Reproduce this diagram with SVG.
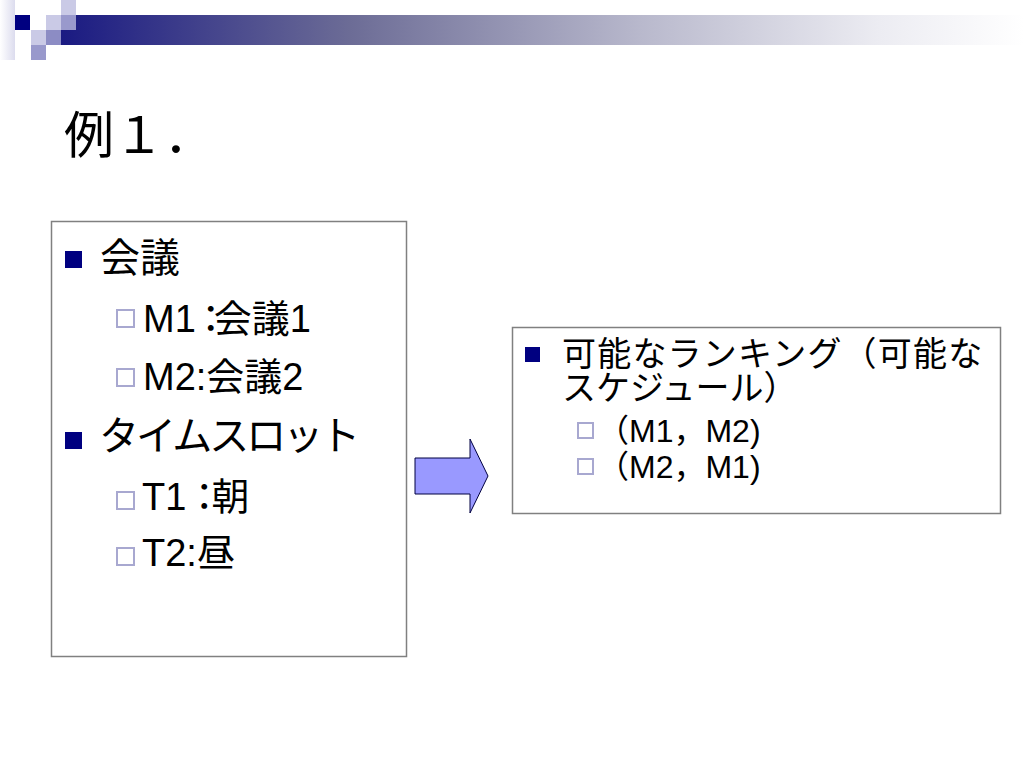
<svg xmlns="http://www.w3.org/2000/svg" width="1024" height="768" viewBox="0 0 1024 768">
<defs>
<linearGradient id="bar" x1="0" y1="0" x2="1" y2="0">
<stop offset="0" stop-color="#1a1a82"/>
<stop offset="0.3" stop-color="#6c6c96"/>
<stop offset="0.6" stop-color="#b8b8cc"/>
<stop offset="0.85" stop-color="#ececf2"/>
<stop offset="1" stop-color="#ffffff"/>
</linearGradient>
<linearGradient id="side" x1="0" y1="0" x2="1" y2="0">
<stop offset="0" stop-color="#ffffff"/>
<stop offset="1" stop-color="#dcdcee"/>
</linearGradient>
</defs>
<style>
.t{font-family:"Liberation Sans","Noto Sans CJK JP",sans-serif;fill:#000}
.j{font-family:"Noto Sans CJK JP","Liberation Sans",sans-serif;fill:#000}
.box{fill:#fff;stroke:#808080;stroke-width:1.5}
.b1{fill:#000080}
.b2{fill:none;stroke:#a8a8d0;stroke-width:2}
</style>
<rect width="1024" height="768" fill="#fff"/>
<g id="header">
<rect x="0" y="0" width="15" height="60" fill="url(#side)"/>
<rect x="61" y="15" width="963" height="30" fill="url(#bar)"/>
<rect x="15" y="15" width="15" height="15" fill="#000080"/>
<rect x="46" y="15" width="15" height="15" fill="#cacae6"/>
<rect x="61" y="0" width="15" height="15" fill="#cacae6"/>
<rect x="61" y="15" width="15" height="15" fill="#9999cc"/>
<rect x="31" y="30" width="15" height="15" fill="#cacae6"/>
<rect x="46" y="30" width="15" height="15" fill="#8c8cc4"/>
<rect x="31" y="45" width="15" height="15" fill="#9999cc"/>
</g>
<text id="title" class="j" x="64" y="153" font-size="50">例１．</text>
<g id="left">
<rect class="box" x="51.5" y="221.5" width="355" height="435"/>
<rect class="b1" x="65" y="251" width="17" height="17"/>
<text class="j" x="100" y="272" font-size="40">会議</text>
<rect class="b2" x="117" y="310" width="17" height="17"/>
<text class="t" x="143" y="332" font-size="38">M1<tspan dx="-4">：</tspan><tspan dx="-16">会議1</tspan></text>
<rect class="b2" x="117" y="369" width="17" height="17"/>
<text class="t" x="143" y="390" font-size="38">M2:会議2</text>
<rect class="b1" x="65" y="432" width="17" height="17"/>
<text class="j" x="99" y="450" font-size="40" letter-spacing="-3">タイムスロット</text>
<rect class="b2" x="117" y="492" width="17" height="17"/>
<text class="t" x="142" y="510" font-size="38">T1<tspan dx="-1">：</tspan><tspan dx="-12">朝</tspan></text>
<rect class="b2" x="117" y="548" width="17" height="17"/>
<text class="t" x="142" y="566" font-size="38">T2:昼</text>
</g>
<g id="connectors">
<path d="M415,458 H470 V439 L488,476 L470,513 V494 H415 Z" fill="#9999ff" stroke="#000040" stroke-width="1"/>
</g>
<g id="right">
<rect class="box" x="512.5" y="327.5" width="488" height="186"/>
<rect class="b1" x="525" y="347" width="15" height="15"/>
<text class="j" x="562" y="366" font-size="34" letter-spacing="1.2">可能なランキング（可能な</text>
<text class="j" x="562" y="400" font-size="34">スケジュール）</text>
<rect class="b2" x="578" y="423" width="15" height="15"/>
<text class="t" x="597" y="442" font-size="32">（M1，M2)</text>
<rect class="b2" x="578" y="459" width="15" height="15"/>
<text class="t" x="597" y="478" font-size="32">（M2，M1)</text>
</g>
</svg>
